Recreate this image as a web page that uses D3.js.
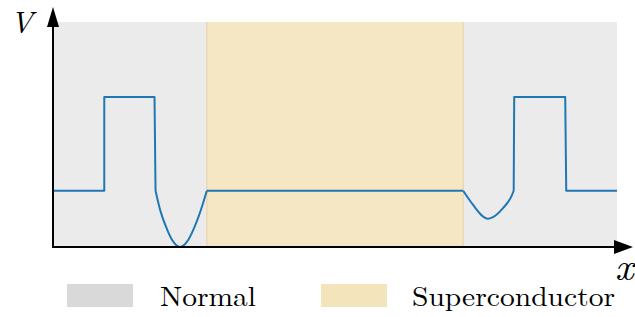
<!DOCTYPE html>
<html><head><meta charset="utf-8">
<script src="https://cdn.jsdelivr.net/npm/d3@7"></script>
<style>html,body{margin:0;padding:0;background:#fff;}svg{display:block;}</style>
</head><body>
<svg id="chart" width="635" height="317"></svg>
<script>
// Regions along x (data units)
const regions = [
  {name: "Normal", x0: 0, x1: 3},
  {name: "Superconductor", x0: 3, x1: 8},
  {name: "Normal", x0: 8, x1: 11}
];
// Potential profile V(x) (steps and dips)
const stepX1 = [0, 1, 1, 1.98, 2.0];
const stepV1 = [0, 0, 1, 1, 0];
const dip1X = [2.0, 2.087, 2.229, 2.321, 2.477, 2.639, 2.736, 2.887, 3.0];
const dip1V = [0, -0.2, -0.417, -0.523, -0.6, -0.523, -0.417, -0.2, 0];
const flatX = [3.0, 8.0];
const flatV = [0, 0];
const dip2X = [8.0, 8.19, 8.385, 8.48, 8.58, 8.777, 8.94, 8.985];
const dip2V = [0, -0.149, -0.274, -0.299, -0.281, -0.185, -0.06, 0];
const stepX2 = [8.985, 8.995, 9.99, 10.01, 11];
const stepV2 = [0, 1, 1, 0, 0];
const legendLabels = ["Normal", "Superconductor"];
const xLabel = "x", yLabel = "V";

const svg = d3.select("#chart");
const x = d3.scaleLinear().domain([0, 11]).range([53, 617]);
const y = d3.scaleLinear().domain([-0.6, 1.8]).range([247, 22]);
const colors = {Normal: "#ebebeb", Superconductor: "#f5e6c4"};
const legendColors = {Normal: "#d9d9d9", Superconductor: "#f3e4bc"};
const serif = "'Latin Modern Roman', 'Liberation Serif', 'DejaVu Serif', serif";

svg.selectAll("rect.region").data(regions).join("rect")
  .attr("x", d => x(d.x0)).attr("width", d => x(d.x1) - x(d.x0))
  .attr("y", y(1.8)).attr("height", y(-0.6) - y(1.8))
  .attr("fill", d => colors[d.name]);
svg.selectAll("line.edge").data([3, 8]).join("line")
  .attr("x1", d => x(d)).attr("x2", d => x(d))
  .attr("y1", y(1.8)).attr("y2", y(-0.6))
  .attr("stroke", "#ead9b4").attr("stroke-width", 1.5);

const zip = (a, b) => a.map((v, i) => [v, b[i]]);
const lin = d3.line().x(d => x(d[0])).y(d => y(d[1])).curve(d3.curveLinear);
const smooth = d3.line().x(d => x(d[0])).y(d => y(d[1])).curve(d3.curveMonotoneX);
const segs = [
  [lin, zip(stepX1, stepV1)],
  [smooth, zip(dip1X, dip1V)],
  [lin, zip(flatX, flatV)],
  [smooth, zip(dip2X, dip2V)],
  [lin, zip(stepX2, stepV2)]
];
svg.append("path")
  .attr("d", segs.map(([g, p]) => g(p)).join(""))
  .attr("fill", "none").attr("stroke", "#1f77b4").attr("stroke-width", 2)
  .attr("stroke-linejoin", "round");

// axes with arrows
const ax = svg.append("g");
ax.append("line").attr("x1", x(0)).attr("x2", x(0)).attr("y1", y(-0.6) + 1).attr("y2", 20)
  .attr("stroke", "#000").attr("stroke-width", 2);
ax.append("line").attr("x1", x(0) - 1).attr("x2", 620).attr("y1", y(-0.6)).attr("y2", y(-0.6))
  .attr("stroke", "#000").attr("stroke-width", 2);
ax.append("path").attr("d", `M${x(0)},7 L${x(0) - 6},27 L${x(0) + 6},27 Z`).attr("fill", "#000");
ax.append("path").attr("d", `M633,${y(-0.6)} L614,${y(-0.6) - 7} L614,${y(-0.6) + 7} Z`).attr("fill", "#000");

svg.append("text").text(yLabel).attr("x", 10).attr("y", 33)
  .attr("font-family", serif).attr("font-style", "italic").attr("font-size", 31);
svg.append("text").text(xLabel).attr("x", 615).attr("y", 280)
  .attr("font-family", serif).attr("font-style", "italic").attr("font-size", 40);

// legend
const leg = [
  {label: legendLabels[0], sx: 67, tx: 160, tw: 96},
  {label: legendLabels[1], sx: 321, tx: 412, tw: 203}
];
leg.forEach(l => {
  svg.append("rect").attr("x", l.sx).attr("y", 284).attr("width", 66).attr("height", 23)
    .attr("fill", legendColors[l.label]);
  svg.append("text").text(l.label).attr("x", l.tx).attr("y", 306)
    .attr("font-family", serif).attr("font-size", 28)
    .attr("textLength", l.tw).attr("lengthAdjust", "spacingAndGlyphs");
});
</script>
</body></html>
